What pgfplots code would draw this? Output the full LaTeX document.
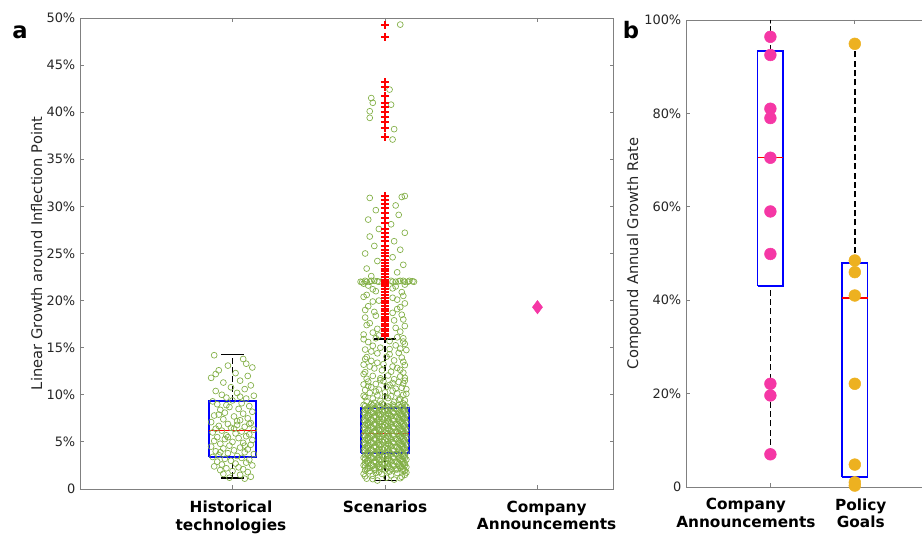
\documentclass[border=0pt]{standalone}
\usepackage{pgfplots}
\pgfplotsset{compat=1.18}
\usepackage{fontspec}
\setmainfont{DejaVu Sans}
\definecolor{axgray}{RGB}{128,128,128}
\definecolor{ticktext}{RGB}{38,38,38}
\definecolor{scgreen}{RGB}{130,175,70}
\definecolor{pinkc}{RGB}{245,55,165}
\definecolor{goldc}{RGB}{237,177,32}
\definecolor{boxblue}{RGB}{0,0,255}
\pgfplotsset{
  mystyle/.style={
    scale only axis, anchor=south west, clip=false,
    axis line style={axgray, line width=0.6pt},
    every tick/.style={axgray, line width=0.6pt},
    tick align=inside, major tick length=3pt,
    xticklabels={},
    yticklabel style={font=\fontsize{9.7}{11}\selectfont, text=ticktext},
    ylabel style={font=\fontsize{11}{12}\selectfont, text=ticktext},
  },
  boxst/.style={boxblue, line width=1.2pt, no marks},
  medst/.style={red, line width=1.1pt, no marks},
  whst/.style={black, line width=1.1pt, dash pattern=on 4.5pt off 2.5pt, no marks},
  capst/.style={black, line width=1.1pt, no marks},
  green circ/.style={only marks, mark=o, mark size=2.2pt, mark options={draw=scgreen, line width=0.5pt}},
}
\begin{document}
\begin{tikzpicture}[x=1pt,y=1pt]
\path[use as bounding box] (0,0) rectangle (691.5,400.5);
\node[font=\fontsize{17}{17}\selectfont\bfseries] at (15,376.5) {a};
\node[font=\fontsize{17}{17}\selectfont\bfseries] at (473.25,378) {b};
% ---------------- panel a ----------------
\begin{axis}[mystyle,
  at={(60pt,33.75pt)}, width=400.3pt, height=353.25pt,
  xmin=0, xmax=3.5, ymin=0, ymax=50,
  xtick={1,2,3},
  ytick={0,5,10,15,20,25,30,35,40,45,50},
  yticklabels={0,5\%,10\%,15\%,20\%,25\%,30\%,35\%,40\%,45\%,50\%},
  ylabel={Linear Growth around Inflection Point},
  every axis y label/.append style={at={(axis description cs:-0.081,0.5)}, anchor=center},
]
% historical technologies: jittered points
\addplot[green circ] coordinates {
(0.88,14.2)(1.07,13.8)(0.97,13.1)(1.13,12.9)(0.91,12.6)(1.02,12.3)(1.10,12.0)(0.86,11.8)(1.05,11.5)(0.94,11.3)(1.12,11.0)
(0.99,10.8)(1.08,10.6)(0.89,10.4)(1.03,10.2)(0.93,10.0)(1.14,9.9)(0.96,9.7)(1.09,9.6)(1.00,9.4)(0.87,9.3)(1.06,9.1)
(0.90,9.0)(1.11,8.8)(0.98,8.7)(1.04,8.5)(0.92,8.4)(1.13,8.2)(0.95,8.1)(1.07,8.0)(0.88,7.8)(1.01,7.7)(1.10,7.5)
(0.94,7.4)(1.05,7.3)(0.86,7.1)(1.12,7.0)(0.97,6.9)(1.03,6.8)(0.91,6.7)(1.08,6.6)(0.99,6.5)(0.89,6.4)(1.14,6.3)
(0.93,6.2)(1.06,6.1)(0.87,6.0)(1.02,5.9)(1.11,5.8)(0.96,5.7)(1.09,5.6)(0.90,5.5)(1.04,5.4)(0.95,5.3)(1.13,5.2)
(0.88,5.1)(1.00,5.0)(1.07,4.9)(0.92,4.8)(1.12,4.7)(0.98,4.6)(0.86,4.5)(1.05,4.4)(0.94,4.3)(1.10,4.2)(1.01,4.1)
(0.89,4.0)(1.08,3.9)(0.97,3.8)(1.14,3.7)(0.91,3.6)(1.03,3.5)(0.87,3.4)(1.06,3.3)(0.95,3.2)(1.11,3.1)(0.99,3.0)
(0.90,2.9)(1.09,2.8)(1.02,2.7)(0.93,2.6)(1.13,2.5)(0.88,2.4)(1.04,2.3)(0.96,2.2)(1.07,2.1)(0.92,2.0)(1.00,1.9)
(1.10,1.8)(0.94,1.6)(1.05,1.5)(1.12,1.3)(0.98,1.2)(1.08,1.1)(0.91,7.9)(1.03,7.2)(0.97,5.5)(1.08,4.6)(0.92,3.9)
(1.01,6.4)(1.11,6.9)(0.96,8.9)(1.05,9.8)(0.89,12.2)(1.09,13.3)
};
% scenarios: jittered points
\addplot[green circ] coordinates {
(1.95,0.9)(2.06,1.0)(1.88,1.1)(2.11,1.3)(1.92,1.4)(2.01,1.2)(1.86,1.6)(2.08,1.7)(1.98,1.6)(2.13,1.5)
(1.90,1.9)(2.03,1.85)(2.12,1.95)(1.96,1.8)(1.92,1.05)(2.10,1.15)(1.87,1.35)(2.04,1.45)(1.94,1.7)(2.14,1.75)
(1.87,2.00)(1.93,2.06)(2.00,1.96)(2.07,2.08)(2.13,1.93)
(1.89,2.20)(1.96,2.26)(2.04,2.16)(2.10,2.28)
(1.87,2.40)(1.95,2.46)(2.02,2.36)(2.09,2.48)(2.14,2.33)
(1.91,2.60)(1.98,2.66)(2.05,2.56)(2.12,2.68)
(1.87,2.80)(1.93,2.86)(2.00,2.76)(2.07,2.88)(2.13,2.73)
(1.89,3.00)(1.96,3.06)(2.04,2.96)(2.10,3.08)
(1.87,3.20)(1.95,3.26)(2.02,3.16)(2.09,3.28)(2.14,3.13)
(1.91,3.40)(1.98,3.46)(2.05,3.36)(2.12,3.48)
(1.87,3.60)(1.93,3.66)(2.00,3.56)(2.07,3.68)(2.13,3.53)
(1.89,3.80)(1.96,3.86)(2.04,3.76)(2.10,3.88)
(1.87,4.00)(1.95,4.06)(2.02,3.96)(2.09,4.08)(2.14,3.93)
(1.91,4.20)(1.98,4.26)(2.05,4.16)(2.12,4.28)
(1.87,4.40)(1.93,4.46)(2.00,4.36)(2.07,4.48)(2.13,4.33)
(1.89,4.60)(1.96,4.66)(2.04,4.56)(2.10,4.68)
(1.87,4.80)(1.95,4.86)(2.02,4.76)(2.09,4.88)(2.14,4.73)
(1.91,5.00)(1.98,5.06)(2.05,4.96)(2.12,5.08)
(1.87,5.20)(1.93,5.26)(2.00,5.16)(2.07,5.28)(2.13,5.13)
(1.89,5.40)(1.96,5.46)(2.04,5.36)(2.10,5.48)
(1.87,5.60)(1.95,5.66)(2.02,5.56)(2.09,5.68)(2.14,5.53)
(1.91,5.80)(1.98,5.86)(2.05,5.76)(2.12,5.88)
(1.87,6.00)(1.93,6.06)(2.00,5.96)(2.07,6.08)(2.13,5.93)
(1.89,6.20)(1.96,6.26)(2.04,6.16)(2.10,6.28)
(1.87,6.40)(1.95,6.46)(2.02,6.36)(2.09,6.48)(2.14,6.33)
(1.91,6.60)(1.98,6.66)(2.05,6.56)(2.12,6.68)
(1.87,6.80)(1.93,6.86)(2.00,6.76)(2.07,6.88)(2.13,6.73)
(1.89,7.00)(1.96,7.06)(2.04,6.96)(2.10,7.08)
(1.87,7.20)(1.95,7.26)(2.02,7.16)(2.09,7.28)(2.14,7.13)
(1.91,7.40)(1.98,7.46)(2.05,7.36)(2.12,7.48)
(1.87,7.60)(1.93,7.66)(2.00,7.56)(2.07,7.68)(2.13,7.53)
(1.89,7.80)(1.96,7.86)(2.04,7.76)(2.10,7.88)
(1.87,8.00)(1.95,8.06)(2.02,7.96)(2.09,8.08)(2.14,7.93)
(1.91,8.20)(1.98,8.26)(2.05,8.16)(2.12,8.28)
(1.87,8.40)(1.93,8.46)(2.00,8.36)(2.07,8.48)(2.13,8.33)
(1.89,8.60)(1.96,8.66)(2.04,8.56)(2.10,8.68)
(1.87,8.80)(1.95,8.86)(2.02,8.76)(2.09,8.88)(2.14,8.73)
(1.91,9.00)(1.98,9.06)(2.05,8.96)(2.12,9.08)
(1.88,2.13)(1.94,2.05)(2.01,2.15)(2.08,2.08)(2.12,2.14)
(1.90,2.26)(1.97,2.33)(2.03,2.28)(2.11,2.35)
(1.86,2.52)(1.92,2.47)(1.99,2.56)(2.06,2.45)(2.13,2.51)
(1.89,2.75)(1.96,2.66)(2.02,2.72)(2.09,2.67)
(1.88,2.93)(1.94,2.85)(2.01,2.95)(2.08,2.88)(2.12,2.94)
(1.90,3.06)(1.97,3.13)(2.03,3.08)(2.11,3.15)
(1.86,3.32)(1.92,3.27)(1.99,3.36)(2.06,3.25)(2.13,3.31)
(1.89,3.55)(1.96,3.46)(2.02,3.52)(2.09,3.47)
(1.88,3.73)(1.94,3.65)(2.01,3.75)(2.08,3.68)(2.12,3.74)
(1.90,3.86)(1.97,3.93)(2.03,3.88)(2.11,3.95)
(1.86,4.12)(1.92,4.07)(1.99,4.16)(2.06,4.05)(2.13,4.11)
(1.89,4.35)(1.96,4.26)(2.02,4.32)(2.09,4.27)
(1.88,4.53)(1.94,4.45)(2.01,4.55)(2.08,4.48)(2.12,4.54)
(1.90,4.66)(1.97,4.73)(2.03,4.68)(2.11,4.75)
(1.86,4.92)(1.92,4.87)(1.99,4.96)(2.06,4.85)(2.13,4.91)
(1.89,5.15)(1.96,5.06)(2.02,5.12)(2.09,5.07)
(1.88,5.33)(1.94,5.25)(2.01,5.35)(2.08,5.28)(2.12,5.34)
(1.90,5.46)(1.97,5.53)(2.03,5.48)(2.11,5.55)
(1.86,5.72)(1.92,5.67)(1.99,5.76)(2.06,5.65)(2.13,5.71)
(1.89,5.95)(1.96,5.86)(2.02,5.92)(2.09,5.87)
(1.88,6.13)(1.94,6.05)(2.01,6.15)(2.08,6.08)(2.12,6.14)
(1.90,6.26)(1.97,6.33)(2.03,6.28)(2.11,6.35)
(1.86,6.52)(1.92,6.47)(1.99,6.56)(2.06,6.45)(2.13,6.51)
(1.89,6.75)(1.96,6.66)(2.02,6.72)(2.09,6.67)
(1.88,6.93)(1.94,6.85)(2.01,6.95)(2.08,6.88)(2.12,6.94)
(1.90,7.06)(1.97,7.13)(2.03,7.08)(2.11,7.15)
(1.86,7.32)(1.92,7.27)(1.99,7.36)(2.06,7.25)(2.13,7.31)
(1.89,7.55)(1.96,7.46)(2.02,7.52)(2.09,7.47)
(1.88,7.73)(1.94,7.65)(2.01,7.75)(2.08,7.68)(2.12,7.74)
(1.90,7.86)(1.97,7.93)(2.03,7.88)(2.11,7.95)
(1.86,8.12)(1.92,8.07)(1.99,8.16)(2.06,8.05)(2.13,8.11)
(1.89,8.35)(1.96,8.26)(2.02,8.32)(2.09,8.27)
(1.88,8.53)(1.94,8.45)(2.01,8.55)(2.08,8.48)(2.12,8.54)
(1.90,8.66)(1.97,8.73)(2.03,8.68)(2.11,8.75)
(1.86,8.92)(1.92,8.87)(1.99,8.96)(2.06,8.85)(2.13,8.91)
(1.88,9.3)(1.97,9.35)(2.06,9.25)(2.13,9.4)(1.92,9.6)(2.02,9.65)(2.10,9.55)
(1.86,9.9)(1.95,9.95)(2.04,9.85)(2.12,10.0)(1.90,10.2)(2.00,10.25)(2.08,10.15)
(1.87,10.5)(1.96,10.55)(2.05,10.45)(2.14,10.6)(1.91,10.8)(2.01,10.85)(2.11,10.75)
(1.86,11.1)(1.94,11.15)(2.03,11.05)(2.12,11.2)(1.89,11.4)(1.99,11.45)(2.09,11.35)
(1.88,11.7)(1.97,11.75)(2.06,11.65)(2.13,11.8)(1.92,12.0)(2.02,12.05)(2.10,11.95)
(1.87,12.4)(2.04,12.45)(2.12,12.35)(1.93,12.8)(2.08,12.85)(1.86,13.2)(1.99,13.25)(2.13,13.15)
(1.91,13.6)(2.06,13.65)(1.88,14.0)(2.01,14.05)(2.11,13.95)(1.95,14.4)(2.09,14.45)
(1.87,14.8)(2.03,14.85)(2.14,14.75)(1.92,15.2)(2.07,15.25)(1.89,15.6)(2.12,15.65)(1.94,16.0)(2.08,16.1)
(1.93,9.15)(2.09,9.45)(1.87,9.75)(2.00,9.8)(2.14,10.1)(1.94,10.35)(2.07,10.65)(1.89,10.95)(2.05,11.25)
(1.97,11.55)(2.13,11.5)(1.86,12.2)(1.98,12.6)(2.10,12.65)(1.90,13.0)(2.05,13.0)(1.95,13.4)(2.12,13.5)
(1.87,13.8)(2.03,14.3)(1.91,14.6)(2.10,14.9)(1.97,15.0)(2.13,15.4)(1.86,15.9)(2.03,15.7)(1.96,16.3)(2.12,16.0)
(1.86,16.4)(2.10,16.7)(1.95,17.0)(2.13,17.3)(1.90,17.6)(2.06,17.9)(1.87,18.2)(2.11,18.5)(1.93,18.8)
(2.08,19.1)(1.89,19.4)(2.13,19.7)(1.96,20.0)(2.05,20.3)(1.88,20.6)(2.11,20.9)(1.92,21.2)(2.07,21.5)(1.86,21.8)
(1.92,16.6)(2.07,17.1)(1.88,17.4)(2.12,18.0)(1.94,18.4)(2.05,18.7)(1.87,19.0)(2.10,19.3)(1.92,19.9)(2.08,20.1)
(1.86,20.4)(2.12,20.5)(1.94,21.0)(2.05,21.3)(1.89,21.6)(2.13,21.7)
(1.84,22.0)(1.87,22.1)(1.90,22.0)(1.93,22.1)(1.96,22.0)(2.04,22.1)(2.07,22.0)(2.10,22.1)(2.13,22.0)(2.16,22.1)(2.19,22.0)(1.99,22.2)
(1.85,21.95)(1.88,22.0)(1.91,22.1)(1.95,22.05)(2.05,22.0)(2.09,22.05)(2.12,22.1)(2.15,22.0)(2.18,22.05)
(1.91,22.6)(2.08,23.0)(1.88,23.4)(2.12,23.8)(1.95,24.2)(2.05,24.6)(1.87,25.0)(2.10,25.4)(1.93,25.8)(2.06,26.3)
(1.90,26.8)(2.13,27.2)(1.96,27.6)(2.04,28.1)(1.89,28.6)(2.09,29.1)(1.94,29.6)(2.07,30.1)(1.90,30.9)(2.11,31.0)(2.13,31.1)
(1.91,41.5)(1.92,41.0)(1.90,40.1)(1.90,39.4)(2.03,42.4)(2.04,40.8)(2.06,38.2)(2.05,37.1)(2.10,49.3)
};
% box plots
\addplot[whst] coordinates {(1,1.15)(1,3.4)};
\addplot[whst] coordinates {(1,9.35)(1,14.3)};
\addplot[whst] coordinates {(2,0.9)(2,3.8)};
\addplot[whst] coordinates {(2,8.6)(2,15.9)};
\addplot[boxst] coordinates {(0.846,3.4)(1.154,3.4)(1.154,9.35)(0.846,9.35)(0.846,3.4)};
\addplot[medst] coordinates {(0.846,6.2)(1.154,6.2)};
\addplot[boxst] coordinates {(1.843,3.8)(2.157,3.8)(2.157,8.6)(1.843,8.6)(1.843,3.8)};
\addplot[medst] coordinates {(1.843,5.9)(2.157,5.9)};
% outliers
\addplot[only marks, mark=+, mark size=3pt, mark options={red, line width=1.5pt}] coordinates {
(2,16.2)(2,16.5)(2,16.8)(2,17.0)(2,17.3)(2,17.5)(2,17.8)(2,18.0)(2,18.3)(2,18.6)(2,18.9)(2,19.1)(2,19.4)(2,19.7)
(2,20.0)(2,20.3)(2,20.6)(2,20.9)(2,21.2)(2,21.5)(2,21.8)(2,22.0)(2,22.2)(2,22.5)(2,22.8)(2,23.1)(2,23.4)(2,23.7)
(2,24.0)(2,24.3)(2,24.7)(2,25.0)(2,25.4)(2,25.8)(2,26.3)(2,26.7)(2,27.2)(2,27.6)(2,28.2)(2,28.8)(2,29.3)(2,29.8)
(2,30.3)(2,30.7)(2,31.1)(2,37.4)(2,38.3)(2,39.0)(2,39.5)(2,40.0)(2,40.5)(2,41.0)(2,41.7)(2,42.7)(2,43.2)(2,48.0)(2,49.3)
};
\addplot[capst] coordinates {(0.925,1.15)(1.075,1.15)};
\addplot[capst] coordinates {(0.925,14.3)(1.075,14.3)};
\addplot[capst] coordinates {(1.925,0.9)(2.075,0.9)};
\addplot[capst] coordinates {(1.925,15.9)(2.075,15.9)};
% company announcements
\addplot[only marks, mark=diamond*, mark size=5pt, mark options={fill=pinkc, draw=pinkc}] coordinates {(3,19.3)};
\begin{scope}[font=\fontsize{11.5}{13}\selectfont\bfseries, align=center, anchor=north, inner sep=0pt]
\node at (axis cs:0.99,0) [yshift=-9pt] {Historical\\technologies};
\node at (axis cs:2.0,0) [yshift=-9pt] {Scenarios};
\node at (axis cs:3.06,0) [yshift=-9pt] {Company\\Announcements};
\end{scope}
\end{axis}
% ---------------- panel b ----------------
\begin{axis}[mystyle,
  at={(514.5pt,35.25pt)}, width=189.9pt, height=350.25pt,
  xmin=0, xmax=3, ymin=0, ymax=100,
  xtick={1,2},
  ytick={0,20,40,60,80,100},
  yticklabels={0,20\%,40\%,60\%,80\%,100\%},
  ylabel={Compound Annual Growth Rate},
  every axis y label/.append style={at={(axis description cs:-0.205,0.5)}, anchor=center},
]
\addplot[only marks, mark=*, mark size=4.4pt, mark options={fill=pinkc, draw=pinkc}] coordinates {
(1,96.4)(1,92.5)(1,81.0)(1,79.0)(1,70.5)(1,59.0)(1,49.9)(1,22.1)(1,19.6)(1,7.0)
};
\addplot[only marks, mark=*, mark size=4.4pt, mark options={fill=goldc, draw=goldc}] coordinates {
(2,94.9)(2,48.5)(2,46.0)(2,41.0)(2,22.1)(2,4.8)(2,1.0)(2,0.3)
};
\addplot[whst] coordinates {(1,7.0)(1,43.0)};
\addplot[whst] coordinates {(1,93.4)(1,100)};
\addplot[whst] coordinates {(2,0.4)(2,2.1)};
\addplot[whst] coordinates {(2,48.0)(2,94.9)};
\addplot[boxst] coordinates {(0.848,43.0)(1.152,43.0)(1.152,93.4)(0.848,93.4)(0.848,43.0)};
\addplot[medst] coordinates {(0.848,70.5)(1.152,70.5)};
\addplot[boxst] coordinates {(1.848,2.1)(2.152,2.1)(2.152,48.0)(1.848,48.0)(1.848,2.1)};
\addplot[medst] coordinates {(1.848,40.5)(2.152,40.5)};
\addplot[capst] coordinates {(0.935,7.0)(1.065,7.0)};
\addplot[capst] coordinates {(1.935,0.4)(2.065,0.4)};
\addplot[capst] coordinates {(1.935,94.9)(2.065,94.9)};
\begin{scope}[font=\fontsize{11.5}{13}\selectfont\bfseries, align=center, anchor=north, inner sep=0pt]
\node at (axis cs:0.71,0) [yshift=-8.5pt] {Company\\Announcements};
\node at (axis cs:2.07,0) [yshift=-8.5pt] {Policy\\Goals};
\end{scope}
\end{axis}
\end{tikzpicture}
\end{document}
